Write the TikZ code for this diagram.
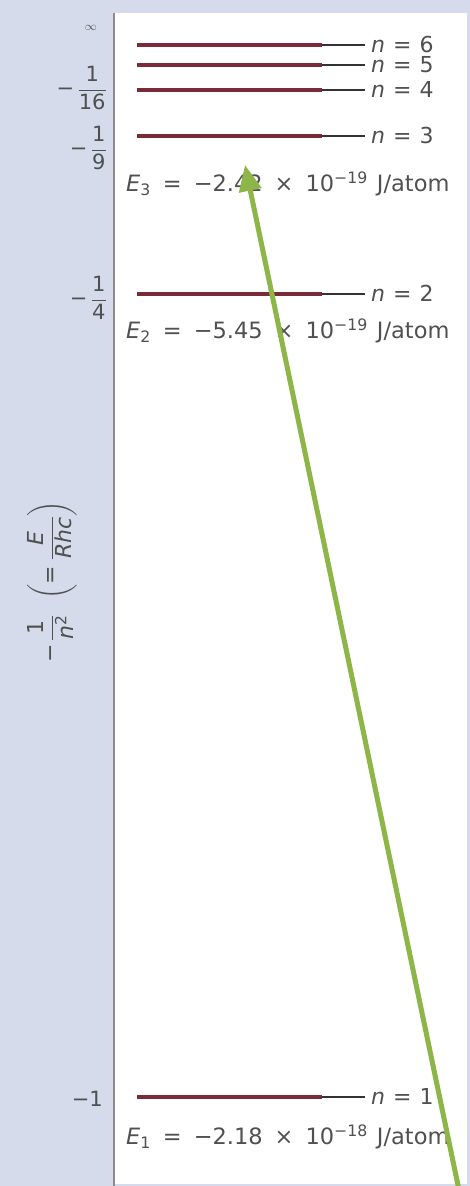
\documentclass[tikz,border=0pt]{standalone}
\usepackage{amsmath}
\usepackage{fontspec}
\setmainfont{DejaVu Sans}
\usetikzlibrary{arrows.meta}
\definecolor{bgc}{HTML}{D5DBEA}
\definecolor{barc}{HTML}{7B2A38}
\definecolor{txtc}{HTML}{505050}
\definecolor{arrc}{HTML}{8DB548}
\newcommand{\gap}{\hspace{12pt}}
\newcommand{\ngap}{\hspace{8pt}}
\begin{document}
\begin{tikzpicture}[x=1pt,y=-1pt,
  lvl/.style={line width=4.5pt, barc},
  conn/.style={line width=1.3pt, black!80},
  nlab/.style={anchor=base west, inner sep=0pt, text=txtc, font=\fontsize{22}{24}\selectfont},
  elab/.style={anchor=base west, inner sep=0pt, text=txtc, font=\fontsize{22.5}{24}\selectfont},
  tick/.style={anchor=east, inner sep=0pt, text=txtc, font=\fontsize{21}{23}\selectfont}]
\useasboundingbox (0,0) rectangle (470,1186);
\fill[bgc] (0,0) rectangle (470,1186);
\fill[white] (114,13) rectangle (467,1184);
\draw[line width=2pt, black!45] (114,13) -- (114,1186);
% levels
\foreach \n/\y in {6/45,5/65,4/90,3/136,2/294,1/1097}{
  \coordinate (b\n) at (137,\y);
  \coordinate (e\n) at (322,\y);
  \coordinate (c\n) at (365,\y);
  \draw[lvl] (b\n) -- (e\n);
  \draw[conn] (e\n) -- (c\n);
  \node[nlab] (n\n) at (371,\y+7) {\textit{n}\ngap=\ngap\n};
}
% energy labels
\node[elab] (E3) at (126,191) {\textit{E}\textsubscript{3}\gap=\gap−2.42\gap×\gap10\textsuperscript{−19}\hspace{9pt}J/atom};
\node[elab] (E2) at (126,338) {\textit{E}\textsubscript{2}\gap=\gap−5.45\gap×\gap10\textsuperscript{−19}\hspace{9pt}J/atom};
\node[elab] (E1) at (126,1144) {\textit{E}\textsubscript{1}\gap=\gap−2.18\gap×\gap10\textsuperscript{−18}\hspace{9pt}J/atom};
% ticks
\node[tick] (tinf) at (97,28) {\fontsize{13}{15}\selectfont$\infty$};
\node[tick] (t16) at (107,88) {$\text{−}\,\dfrac{\text{1}}{\text{16}}$};
\node[tick] (t9) at (107,148) {$\text{−}\,\dfrac{\text{1}}{\text{9}}$};
\node[tick] (t4) at (107,298) {$\text{−}\,\dfrac{\text{1}}{\text{4}}$};
\node[tick] (t1) at (103,1099) {−1};
% axis label
\node[rotate=90, inner sep=0pt, text=txtc, font=\fontsize{22}{24}\selectfont] (ax) at (52,582)
  {$\text{−}\,\dfrac{\text{1}}{\textit{n}^{\text{2}}}\;\;\left(\text{=}\;\dfrac{\textit{E}}{\textit{Rhc}}\right)$};
% green arrow
\coordinate (as) at (459,1190);
\coordinate (at) at (245,165);
\draw[arrc, line width=5pt, -{Triangle[width=22pt,length=26pt]}] (as) -- (at);
\end{tikzpicture}
\end{document}
